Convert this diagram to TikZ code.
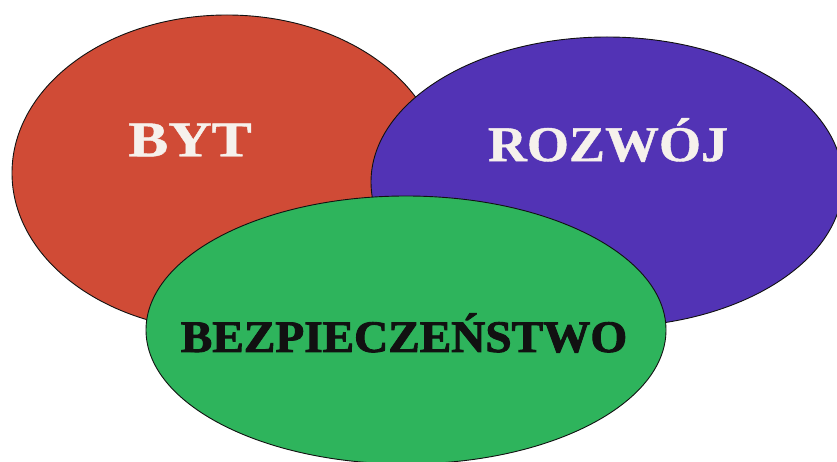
\documentclass[tikz,border=0pt]{standalone}
\usepackage{fontspec}
\setmainfont{Liberation Serif}
\newfontfamily\heavyfont[FakeBold=0.8]{Liberation Serif}
\newfontfamily\blackfont[FakeBold=2]{Liberation Serif}
\usepackage{tikz}
\usepackage{xcolor}
\usetikzlibrary{shapes.geometric}
\definecolor{Brick}{HTML}{D04B36}
\definecolor{Violet}{HTML}{5233B5}
\definecolor{Leaf}{HTML}{2EB45C}
\definecolor{Chalk}{HTML}{F6F1EC}
\definecolor{Ink}{HTML}{111111}
\tikzset{
  blob/.style={
    ellipse,draw=Ink,line width=0.9pt,inner sep=0pt
  },
  tag/.style={
    font=\heavyfont\fontsize{50}{50}\selectfont\bfseries,text=Chalk
  }
}

\begin{document}
\begin{tikzpicture}[x=1pt,y=-1pt]
  \useasboundingbox[fill=white] (0,0) rectangle (837,462);
  % three areas, green one on top
  \node[blob,fill=Brick,minimum width=430pt,minimum height=316pt] (byt) at (227,173) {};
  \node[blob,fill=Violet,minimum width=472pt,minimum height=290pt] (rozwoj) at (607,182) {};
  \node[blob,fill=Leaf,minimum width=520pt,minimum height=268pt] (bezp) at (406,330) {};
  % labels
  \node[tag] (bytlab) at (190,140) {\scalebox{1.2}[1]{BYT}};
  \node[tag] (rozwojlab) at (608,140) {\scalebox{1.08}[1]{ROZWÓJ}};
  \node[tag,text=Ink,font=\blackfont\fontsize{45}{45}\selectfont\bfseries]
    (bezplab) at (404,333) {\scalebox{1.05}[1]{BEZPIECZEŃSTWO}};
\end{tikzpicture}
\end{document}
